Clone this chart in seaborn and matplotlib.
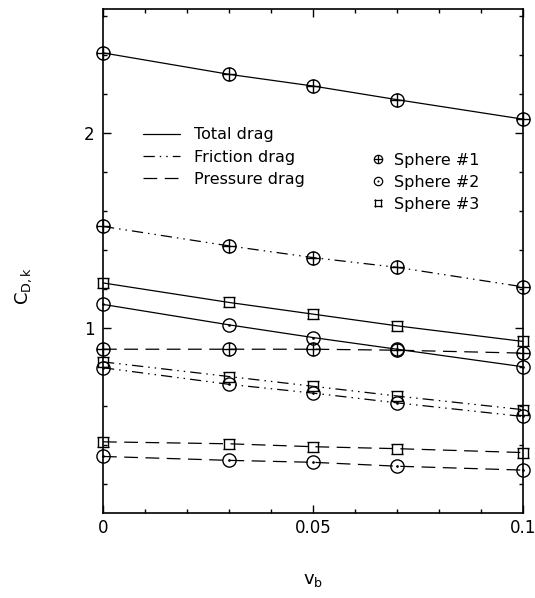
import numpy as np
import pandas as pd
import seaborn as sns
import matplotlib
matplotlib.use("Agg")
import matplotlib.pyplot as plt
from matplotlib.path import Path
from matplotlib.lines import Line2D
from matplotlib.ticker import MultipleLocator

# ---- data ----
v_b = [0.0, 0.03, 0.05, 0.07, 0.1]
s1_total = [2.41, 2.30, 2.24, 2.17, 2.07]
s1_friction = [1.52, 1.42, 1.36, 1.31, 1.21]
s1_pressure = [0.89, 0.89, 0.89, 0.885, 0.87]
s2_total = [1.12, 1.015, 0.95, 0.89, 0.80]
s2_friction = [0.795, 0.71, 0.665, 0.615, 0.545]
s2_pressure = [0.34, 0.32, 0.31, 0.29, 0.27]
s3_total = [1.23, 1.13, 1.07, 1.01, 0.93]
s3_friction = [0.825, 0.75, 0.70, 0.65, 0.58]
s3_pressure = [0.415, 0.405, 0.39, 0.38, 0.36]

spheres = ["Sphere #1", "Sphere #2", "Sphere #3"]
drags = ["Total drag", "Friction drag", "Pressure drag"]
series = {
    ("Sphere #1", "Total drag"): s1_total,
    ("Sphere #1", "Friction drag"): s1_friction,
    ("Sphere #1", "Pressure drag"): s1_pressure,
    ("Sphere #2", "Total drag"): s2_total,
    ("Sphere #2", "Friction drag"): s2_friction,
    ("Sphere #2", "Pressure drag"): s2_pressure,
    ("Sphere #3", "Total drag"): s3_total,
    ("Sphere #3", "Friction drag"): s3_friction,
    ("Sphere #3", "Pressure drag"): s3_pressure,
}
x_ticks = [0, 0.05, 0.1]
x_ticklabels = ["0", "0.05", "0.1"]
y_ticks = [1, 2]
y_ticklabels = ["1", "2"]

rows = []
for (sph, drg), vals in series.items():
    for xv, yv in zip(v_b, vals):
        rows.append({"sphere": sph, "drag": drg, "v_b": xv, "C": yv})
df = pd.DataFrame(rows)

# ---- markers ----
M, L = Path.MOVETO, Path.LINETO
circle = Path.unit_circle()
cross = Path([(-1, 0), (1, 0), (0, -1), (0, 1)], [M, L, M, L])
m_oplus = Path.make_compound_path(circle, cross)
m_odot = Path.make_compound_path(circle, Path.circle((0, 0), 0.1))
m_sq = Path([(-1.3, 1), (1.3, 1), (-1.3, -1), (1.3, -1),
             (-1, -1.1), (-1, 1.1), (1, -1.1), (1, 1.1)],
            [M, L, M, L, M, L, M, L])
markers = {"Sphere #1": m_oplus, "Sphere #2": m_odot, "Sphere #3": m_sq}
msizes = {"Sphere #1": 9.5, "Sphere #2": 9.5, "Sphere #3": 9.0}
styles = {"Total drag": "-",
          "Friction drag": (0, (9, 4, 1.2, 4, 1.2, 4)),
          "Pressure drag": (0, (11, 6))}

sns.set_theme(style="ticks")
plt.rcParams["font.family"] = ["DejaVu Sans"]
plt.rcParams["mathtext.fontset"] = "dejavusans"
plt.rcParams["text.color"] = "black"
plt.rcParams["axes.labelcolor"] = "black"
plt.rcParams["xtick.color"] = "black"
plt.rcParams["ytick.color"] = "black"

fig = plt.figure(figsize=(5.35, 5.98), dpi=100)
ax = fig.add_axes([103 / 535, 1 - 513 / 598, 420 / 535, 504 / 598])

for sph in spheres:
    for drg in drags:
        sub = df[(df["sphere"] == sph) & (df["drag"] == drg)]
        sns.lineplot(data=sub, x="v_b", y="C", ax=ax, color="black",
                     linewidth=0.9, linestyle=styles[drg], errorbar=None,
                     marker=markers[sph], markersize=msizes[sph],
                     markerfacecolor="none", markeredgecolor="black",
                     markeredgewidth=1.0, legend=False, clip_on=False)

ax.set_xlim(0, 0.1)
ax.set_ylim(0.05, 2.635)
ax.set_xticks(x_ticks)
ax.set_xticklabels(x_ticklabels)
ax.set_yticks(y_ticks)
ax.set_yticklabels(y_ticklabels)
ax.xaxis.set_minor_locator(MultipleLocator(0.01))
ax.yaxis.set_minor_locator(MultipleLocator(0.2))
ax.tick_params(which="both", direction="in", top=True, right=True,
               color="black", width=1.0)
ax.tick_params(which="major", length=6)
ax.tick_params(which="minor", length=3)
ax.tick_params(axis="x", which="major", labelsize=12, pad=4, labelcolor="black")
ax.tick_params(axis="y", which="major", labelsize=12, pad=6, labelcolor="black")
for sp in ax.spines.values():
    sp.set_linewidth(1.2)
    sp.set_color("black")

ax.set_xlabel(r"v$_{\mathregular{b}}$", fontsize=13, color="black")
ax.set_ylabel(r"C$_{\mathregular{D,k}}$", fontsize=13, color="black")
ax.xaxis.set_label_coords(0.5, -0.115)
ax.yaxis.set_label_coords(-0.165, 0.45)

# legend for line styles
h1 = [Line2D([], [], color="black", linewidth=0.9, linestyle=styles[d]) for d in drags]
leg1 = ax.legend(h1, drags, loc="upper left", bbox_to_anchor=(0.095, 0.765),
                 frameon=False, fontsize=11.5, handlelength=2.3,
                 handletextpad=0.9, labelspacing=0.45, borderpad=0,
                 borderaxespad=0, labelcolor="black")
ax.add_artist(leg1)
# legend for markers
h2 = [Line2D([], [], linestyle="none", marker=markers[s], markersize=6,
             markerfacecolor="none", markeredgecolor="black",
             markeredgewidth=0.9) for s in spheres]
ax.legend(h2, spheres, loc="upper left", bbox_to_anchor=(0.635, 0.715),
          frameon=False, fontsize=11.5, handlelength=1.0,
          handletextpad=0.5, labelspacing=0.45, borderpad=0,
          borderaxespad=0, labelcolor="black")

fig.savefig("out.png", dpi=100)
